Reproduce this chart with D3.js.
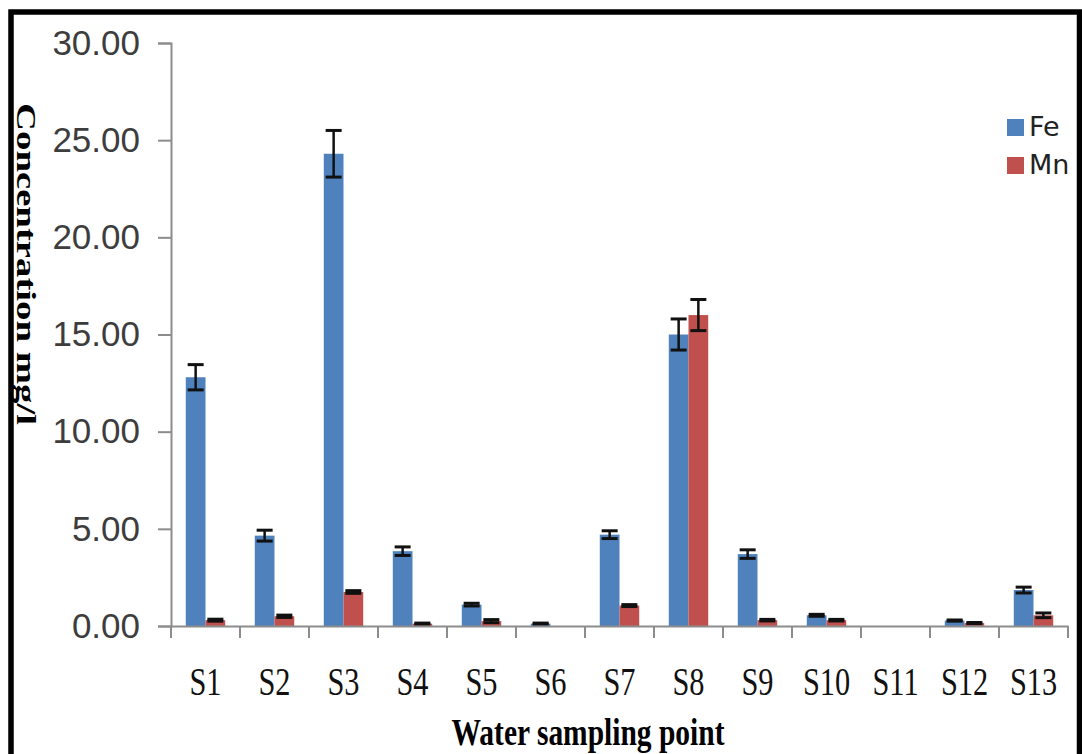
<!DOCTYPE html>
<html>
<head>
<meta charset="utf-8">
<script src="https://cdn.jsdelivr.net/npm/d3@7"></script>
<style>
  html, body { margin: 0; padding: 0; background: #fff; }
  svg { display: block; }
</style>
</head>
<body>
<svg id="chart" width="1082" height="754"></svg>
<script>
// ---- data ----
const categories = ["S1","S2","S3","S4","S5","S6","S7","S8","S9","S10","S11","S12","S13"];
const seriesNames = ["Fe","Mn"];
const feValues = [12.8, 4.65, 24.3, 3.85, 1.1, 0.12, 4.7, 15.0, 3.7, 0.55, 0, 0.28, 1.85];
const feErrors = [0.65, 0.28, 1.2, 0.22, 0.07, 0.03, 0.2, 0.8, 0.22, 0.05, 0, 0.03, 0.15];
const mnValues = [0.3, 0.5, 1.75, 0.12, 0.25, 0, 1.05, 16.0, 0.3, 0.3, 0, 0.15, 0.55];
const mnErrors = [0.05, 0.06, 0.07, 0.03, 0.08, 0, 0.05, 0.8, 0.04, 0.04, 0, 0.03, 0.12];
const yTicks = [0, 5, 10, 15, 20, 25, 30];
const colors = { Fe: "#4F81BD", Mn: "#C0504D" };

const svg = d3.select("#chart");

// border frame
svg.append("rect")
  .attr("x", 11).attr("y", 12)
  .attr("width", 1068.5).attr("height", 800)
  .attr("fill", "none").attr("stroke", "#000").attr("stroke-width", 5.5);

const plot = { left: 171, right: 1068, top: 43, bottom: 626 };

const x = d3.scaleBand().domain(categories).range([plot.left, plot.right]).paddingInner(0).paddingOuter(0);
const xs = d3.scaleBand().domain(seriesNames).range([0, x.bandwidth()]).paddingInner(0).paddingOuter(0.75);
const y = d3.scaleLinear().domain([0, 30]).range([plot.bottom, plot.top]);

const rows = categories.map((c, i) => ({
  cat: c,
  items: [
    { s: "Fe", v: feValues[i], e: feErrors[i] },
    { s: "Mn", v: mnValues[i], e: mnErrors[i] }
  ]
}));

// bars
const groups = svg.append("g").selectAll("g").data(rows).join("g")
  .attr("transform", d => `translate(${x(d.cat)},0)`);

groups.selectAll("rect").data(d => d.items.filter(it => it.v > 0)).join("rect")
  .attr("x", d => xs(d.s))
  .attr("width", xs.bandwidth())
  .attr("y", d => y(d.v))
  .attr("height", d => y(0) - y(d.v))
  .attr("fill", d => colors[d.s]);

// error bars
const eb = groups.selectAll("g.err").data(d => d.items.filter(it => it.v > 0)).join("g").attr("class", "err");
const capW = 16;
const cx = d => xs(d.s) + xs.bandwidth() / 2;
eb.append("line")
  .attr("x1", cx).attr("x2", cx)
  .attr("y1", d => y(d.v + d.e))
  .attr("y2", d => y(Math.max(0, d.v - d.e)))
  .attr("stroke", "#111").attr("stroke-width", 2.5);
eb.append("line")
  .attr("x1", d => cx(d) - capW / 2).attr("x2", d => cx(d) + capW / 2)
  .attr("y1", d => y(d.v + d.e)).attr("y2", d => y(d.v + d.e))
  .attr("stroke", "#111").attr("stroke-width", 3);
eb.append("line")
  .attr("x1", d => cx(d) - capW / 2).attr("x2", d => cx(d) + capW / 2)
  .attr("y1", d => y(Math.max(0, d.v - d.e))).attr("y2", d => y(Math.max(0, d.v - d.e)))
  .attr("stroke", "#111").attr("stroke-width", 3);

// y axis
const yAxis = svg.append("g")
  .attr("transform", `translate(${plot.left},0)`)
  .call(d3.axisLeft(y).tickValues(yTicks).tickFormat(d3.format(".2f")).tickSize(13).tickPadding(18));
yAxis.select(".domain").attr("stroke", "#8c8c8c").attr("stroke-width", 2);
yAxis.selectAll(".tick line").attr("stroke", "#8c8c8c").attr("stroke-width", 2);
yAxis.selectAll(".tick text")
  .attr("fill", "#3d3d3d")
  .style("font-family", "'Liberation Sans', Arial, sans-serif")
  .style("font-size", "35px");

// x axis (labels)
const xAxis = svg.append("g")
  .attr("transform", `translate(0,${plot.bottom})`)
  .call(d3.axisBottom(x).tickSize(0).tickPadding(0));
xAxis.select(".domain").attr("stroke", "#8c8c8c").attr("stroke-width", 2);
xAxis.selectAll(".tick text")
  .attr("y", 69).attr("dy", 0)
  .attr("fill", "#111")
  .style("font-family", "'Liberation Serif', 'Times New Roman', serif")
  .style("font-size", "41px")
  .each(function () {
    const len = this.getComputedTextLength();
    d3.select(this).attr("textLength", len * 0.74).attr("lengthAdjust", "spacingAndGlyphs");
  });

// x boundary ticks
const boundaries = categories.map(c => x(c)).concat([x.range()[1]]);
svg.append("g").selectAll("line").data(boundaries).join("line")
  .attr("x1", d => d).attr("x2", d => d)
  .attr("y1", plot.bottom).attr("y2", plot.bottom + 12)
  .attr("stroke", "#8c8c8c").attr("stroke-width", 2);

// axis titles
svg.append("text")
  .attr("x", 588).attr("y", 745)
  .attr("text-anchor", "middle")
  .style("font-family", "'Liberation Serif', 'Times New Roman', serif")
  .style("font-weight", "bold")
  .style("font-size", "38px")
  .attr("fill", "#000")
  .attr("textLength", 273).attr("lengthAdjust", "spacingAndGlyphs")
  .text("Water sampling point");

svg.append("text")
  .attr("transform", "translate(17,264) rotate(90)")
  .attr("text-anchor", "middle")
  .style("font-family", "'Liberation Serif', 'Times New Roman', serif")
  .style("font-weight", "bold")
  .style("font-size", "27px")
  .attr("fill", "#000")
  .attr("textLength", 322).attr("lengthAdjust", "spacingAndGlyphs")
  .text("Concentration mg/l");

// legend
const legend = svg.append("g").selectAll("g").data(seriesNames).join("g")
  .attr("transform", (d, i) => `translate(1007,${119 + i * 38})`);
legend.append("rect").attr("width", 17).attr("height", 17).attr("fill", d => colors[d]);
legend.append("text")
  .attr("x", 22).attr("y", 17)
  .style("font-family", "'DejaVu Sans', Verdana, sans-serif")
  .style("font-size", "27px")
  .attr("fill", "#222")
  .text(d => d);
</script>
</body>
</html>
